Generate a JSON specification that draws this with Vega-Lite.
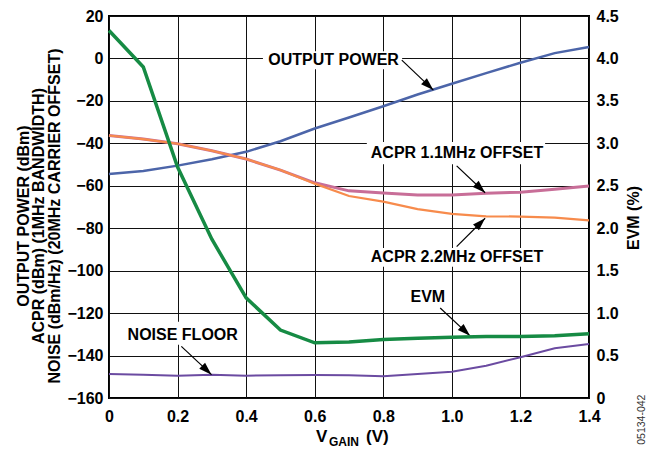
{
  "$schema": "https://vega.github.io/schema/vega-lite/v6.json",
  "width": 480,
  "height": 382,
  "autosize": {"type": "none"},
  "padding": {"left": 109, "top": 16, "right": 71, "bottom": 51},
  "background": "white",
  "config": {
    "font": "Liberation Sans",
    "view": {"stroke": "#000", "strokeWidth": 2},
    "axis": {
      "labelFont": "Liberation Sans",
      "labelFontSize": 16,
      "labelFontWeight": "bold",
      "labelColor": "#000",
      "titleFont": "Liberation Sans",
      "titleFontSize": 16,
      "titleFontWeight": "bold",
      "titleColor": "#000",
      "domain": false,
      "ticks": false,
      "tickSize": 0,
      "gridColor": "#111",
      "gridWidth": 1,
      "gridOpacity": 1,
      "labelFlush": false,
      "labelOverlap": false
    }
  },
  "datasets": {
    "power": [
      {"x": 0, "y": -54.5}, {"x": 0.1, "y": -53}, {"x": 0.2, "y": -50.5}, {"x": 0.3, "y": -47.5},
      {"x": 0.4, "y": -44}, {"x": 0.5, "y": -39}, {"x": 0.6, "y": -33}, {"x": 0.7, "y": -27.8},
      {"x": 0.8, "y": -22.5}, {"x": 0.9, "y": -17}, {"x": 1.0, "y": -11.9}, {"x": 1.1, "y": -6.9},
      {"x": 1.2, "y": -2}, {"x": 1.3, "y": 2.5}, {"x": 1.4, "y": 5.4}
    ],
    "acpr22": [
      {"x": 0, "y": -36.3}, {"x": 0.1, "y": -38}, {"x": 0.2, "y": -40.2}, {"x": 0.3, "y": -43.5},
      {"x": 0.4, "y": -47.4}, {"x": 0.5, "y": -52.6}, {"x": 0.6, "y": -59}, {"x": 0.7, "y": -64.8},
      {"x": 0.8, "y": -67.5}, {"x": 0.9, "y": -71}, {"x": 1.0, "y": -73.2}, {"x": 1.1, "y": -74.4},
      {"x": 1.2, "y": -74.5}, {"x": 1.3, "y": -75}, {"x": 1.4, "y": -76.3}
    ],
    "acpr11": [
      {"x": 0, "y": -36.3}, {"x": 0.1, "y": -38}, {"x": 0.2, "y": -40.2}, {"x": 0.3, "y": -43.5},
      {"x": 0.4, "y": -47.4}, {"x": 0.5, "y": -52.6}, {"x": 0.6, "y": -58.6}, {"x": 0.7, "y": -62.4},
      {"x": 0.8, "y": -63.4}, {"x": 0.9, "y": -64.3}, {"x": 1.0, "y": -64.3}, {"x": 1.1, "y": -63.5},
      {"x": 1.2, "y": -63}, {"x": 1.3, "y": -61.6}, {"x": 1.4, "y": -60.1}
    ],
    "noise": [
      {"x": 0, "y": -148.7}, {"x": 0.1, "y": -149.1}, {"x": 0.2, "y": -149.5}, {"x": 0.3, "y": -149.1},
      {"x": 0.4, "y": -149.5}, {"x": 0.5, "y": -149.3}, {"x": 0.6, "y": -149.2}, {"x": 0.7, "y": -149.3},
      {"x": 0.8, "y": -149.8}, {"x": 0.9, "y": -148.7}, {"x": 1.0, "y": -147.6}, {"x": 1.1, "y": -144.8},
      {"x": 1.2, "y": -140.8}, {"x": 1.3, "y": -136.6}, {"x": 1.4, "y": -134.6}
    ],
    "evm": [
      {"x": 0, "y": 4.33}, {"x": 0.1, "y": 3.9}, {"x": 0.2, "y": 2.72}, {"x": 0.3, "y": 1.87},
      {"x": 0.4, "y": 1.18}, {"x": 0.5, "y": 0.8}, {"x": 0.6, "y": 0.65}, {"x": 0.7, "y": 0.66},
      {"x": 0.8, "y": 0.69}, {"x": 0.9, "y": 0.705}, {"x": 1.0, "y": 0.715}, {"x": 1.1, "y": 0.725},
      {"x": 1.2, "y": 0.725}, {"x": 1.3, "y": 0.733}, {"x": 1.4, "y": 0.756}
    ],
    "boxes": [
      {"x": 0.449, "x2": 0.855, "y": 3.4, "y2": -5.1},
      {"x": 0.752, "x2": 1.272, "y": -39.4, "y2": -49.8},
      {"x": 0.752, "x2": 1.272, "y": -89.3, "y2": -98.2},
      {"x": 0.863, "x2": 0.995, "y": -108.1, "y2": -117.0},
      {"x": 0.043, "x2": 0.387, "y": -124.1, "y2": -134.9}
    ],
    "labels": [
      {"t": "OUTPUT POWER", "x": 0.655, "y": -0.8},
      {"t": "ACPR 1.1MHz OFFSET", "x": 1.015, "y": -44.7},
      {"t": "ACPR 2.2MHz OFFSET", "x": 1.015, "y": -93.6},
      {"t": "EVM", "x": 0.93, "y": -112.5},
      {"t": "NOISE FLOOR", "x": 0.215, "y": -130.2}
    ],
    "arrows": [
      {"x": 0.854, "y": -0.8, "x2": 0.946, "y2": -14.9},
      {"x": 1.014, "y": -50.6, "x2": 1.097, "y2": -63.3},
      {"x": 1.014, "y": -88.7, "x2": 1.097, "y2": -75.3},
      {"x": 0.966, "y": -117.6, "x2": 1.053, "y2": -130.7},
      {"x": 0.211, "y": -135.7, "x2": 0.299, "y2": -149}
    ],
    "heads": [
      {"x": 0.946, "y": -14.9, "dir": "dn"},
      {"x": 1.097, "y": -63.3, "dir": "dn"},
      {"x": 1.097, "y": -75.3, "dir": "up"},
      {"x": 1.053, "y": -130.7, "dir": "dn"},
      {"x": 0.299, "y": -149, "dir": "dn"}
    ],
    "xtbig": [
      {"t": "V", "x": 0.6035, "y": -180.5},
      {"t": "(V)", "x": 0.7495, "y": -180.5}
    ],
    "xtsub": [
      {"t": "GAIN", "x": 0.6415, "y": -182.4}
    ],
    "code": [
      {"t": "05134-042", "x": 1.554, "y": -170.2}
    ]
  },
  "encoding": {
    "x": {
      "field": "x",
      "type": "quantitative",
      "scale": {"domain": [0, 1.4], "nice": false, "zero": false},
      "axis": {
        "values": [0, 0.2, 0.4, 0.6, 0.8, 1.0, 1.2, 1.4],
        "grid": true,
        "title": null,
        "labelPadding": 10,
        "labelExpr": "datum.value == 0 ? '0' : format(datum.value, '.1f')"
      }
    }
  },
  "layer": [
    {
      "encoding": {
        "y": {
          "field": "y",
          "type": "quantitative",
          "scale": {"domain": [-160, 20], "nice": false, "zero": false},
          "axis": {
            "orient": "left",
            "values": [-160, -140, -120, -100, -80, -60, -40, -20, 0, 20],
            "grid": true,
            "labelPadding": 6,
            "title": ["OUTPUT POWER (dBm)", "ACPR (dBm) (1MHz BANDWIDTH)", "NOISE (dBm/Hz) (20MHz CARRIER OFFSET)"],
            "titleLineHeight": 15.8,
            "titleAngle": 270,
            "titleAlign": "center",
            "titleBaseline": "middle",
            "titleX": -86,
            "titleY": 199.5
          }
        }
      },
      "layer": [
        {"data": {"name": "power"}, "mark": {"type": "line", "color": "#4C65A9", "strokeWidth": 2.5}},
        {"data": {"name": "acpr11"}, "mark": {"type": "line", "color": "#C86E98", "strokeWidth": 3}},
        {"data": {"name": "acpr22"}, "mark": {"type": "line", "color": "#F78B4C", "strokeWidth": 2.2}},
        {"data": {"name": "noise"}, "mark": {"type": "line", "color": "#6B4BA1", "strokeWidth": 2}},
        {
          "data": {"name": "boxes"},
          "mark": {"type": "rect", "color": "white", "opacity": 1},
          "encoding": {"x2": {"field": "x2"}, "y2": {"field": "y2"}}
        },
        {
          "data": {"name": "labels"},
          "mark": {"type": "text", "font": "Liberation Sans", "fontSize": 16, "fontWeight": "bold", "color": "#000", "align": "center", "baseline": "middle"},
          "encoding": {"text": {"field": "t"}}
        },
        {
          "data": {"name": "arrows"},
          "mark": {"type": "rule", "color": "#000", "strokeWidth": 1.2},
          "encoding": {"x2": {"field": "x2"}, "y2": {"field": "y2"}}
        },
        {
          "data": {"name": "heads"},
          "transform": [{"filter": "datum.dir == 'dn'"}],
          "mark": {"type": "point", "shape": "M0,0L-1.4,4.3L1.4,4.3Z", "size": 36, "filled": true, "color": "#000", "opacity": 1, "angle": 133.5}
        },
        {
          "data": {"name": "heads"},
          "transform": [{"filter": "datum.dir == 'up'"}],
          "mark": {"type": "point", "shape": "M0,0L-1.4,4.3L1.4,4.3Z", "size": 36, "filled": true, "color": "#000", "opacity": 1, "angle": 45}
        },
        {
          "data": {"name": "xtbig"},
          "mark": {"type": "text", "font": "Liberation Sans", "fontSize": 17, "fontWeight": "bold", "color": "#000", "align": "left", "baseline": "alphabetic"},
          "encoding": {"text": {"field": "t"}}
        },
        {
          "data": {"name": "xtsub"},
          "mark": {"type": "text", "font": "Liberation Sans", "fontSize": 12, "fontWeight": "bold", "color": "#000", "align": "left", "baseline": "alphabetic"},
          "encoding": {"text": {"field": "t"}}
        },
        {
          "data": {"name": "code"},
          "mark": {"type": "text", "font": "Liberation Sans", "fontSize": 10.5, "color": "#333", "align": "center", "baseline": "middle", "angle": 270},
          "encoding": {"text": {"field": "t"}}
        }
      ]
    },
    {
      "data": {"name": "evm"},
      "mark": {"type": "line", "color": "#168B44", "strokeWidth": 3.5},
      "encoding": {
        "y": {
          "field": "y",
          "type": "quantitative",
          "scale": {"domain": [0, 4.5], "nice": false, "zero": false},
          "axis": {
            "orient": "right",
            "values": [0, 0.5, 1, 1.5, 2, 2.5, 3, 3.5, 4, 4.5],
            "grid": false,
            "labelPadding": 7,
            "labelExpr": "datum.value == 0 ? '0' : format(datum.value, '.1f')",
            "title": "EVM (%)",
            "titleAngle": 270,
            "titleAlign": "center",
            "titleBaseline": "middle",
            "titleX": 44,
            "titleY": 201.5
          }
        }
      }
    }
  ],
  "resolve": {"scale": {"y": "independent"}}
}
